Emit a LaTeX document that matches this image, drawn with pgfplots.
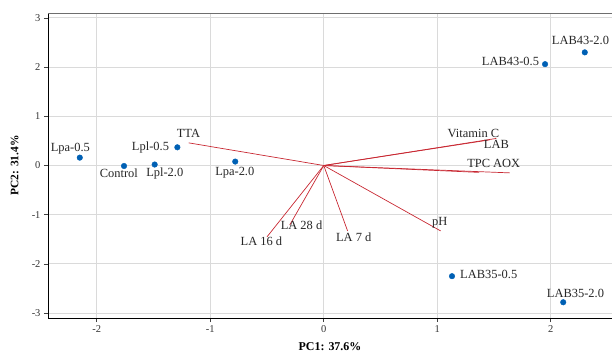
\documentclass[border=0pt]{standalone}
\usepackage{pgfplots}
\pgfplotsset{compat=1.18}
\usepackage{fontspec}
\setmainfont{Liberation Serif}
\definecolor{ptblue}{RGB}{0,96,180}
\definecolor{vecred}{RGB}{200,40,50}
\definecolor{gridgray}{RGB}{218,218,218}
\definecolor{ticktext}{RGB}{50,50,50}
\definecolor{bordergray}{RGB}{110,110,110}
\tikzset{lbl/.style={font=\fontsize{12.5}{14}\selectfont, text=black!85, inner sep=0pt}}
\begin{document}
\begin{tikzpicture}
\path[use as bounding box] (-48bp,-34bp) rectangle (564bp,318bp);
\begin{axis}[
  at={(0,0)}, anchor=south west,
  scale only axis, width=564bp, height=305bp,
  xmin=-2.43, xmax=2.54, ymin=-3.1, ymax=3.1,
  axis x line*=bottom, axis y line*=left,
  axis line style={black, line width=0.9pt, -},
  xtick={-2,-1,0,1,2}, ytick={-3,-2,-1,0,1,2,3},
  grid=major, major grid style={gridgray, line width=1.1pt},
  tick align=outside,
  tick style={black!75, line width=0.6pt},
  major tick length=4bp,
  ticklabel style={font=\fontsize{10.5}{12}\selectfont, text=ticktext},
  /pgf/number format/assume math mode=true,
  xlabel={PC1: 37.6\%}, ylabel={PC2: 31.4\%},
  xlabel style={font=\bfseries\fontsize{12}{14}\selectfont, at={(axis description cs:0.5,-0.094)}, anchor=center},
  ylabel style={font=\bfseries\fontsize{11.5}{14}\selectfont, at={(axis description cs:-0.059,0.5)}, anchor=center},
  clip=false,
]
\draw[bordergray, line width=0.9pt] (axis description cs:0,1) -- (axis description cs:1,1);

% loading vectors
\addplot[vecred, line width=0.7pt] coordinates {(0,0) (-1.19,0.46)};  % TTA
\addplot[vecred, line width=0.7pt] coordinates {(0,0) (1.52,0.55)};   % Vitamin C
\addplot[vecred, line width=0.7pt] coordinates {(0,0) (1.46,0.52)};   % LAB
\addplot[vecred, line width=0.7pt] coordinates {(0,0) (1.37,-0.14)};  % TPC
\addplot[vecred, line width=0.7pt] coordinates {(0,0) (1.64,-0.15)};  % AOX
\addplot[vecred, line width=0.7pt] coordinates {(0,0) (1.03,-1.33)};  % pH
\addplot[vecred, line width=0.7pt] coordinates {(0,0) (0.21,-1.33)};  % LA 7 d
\addplot[vecred, line width=0.7pt] coordinates {(0,0) (-0.30,-1.21)}; % LA 28 d
\addplot[vecred, line width=0.7pt] coordinates {(0,0) (-0.50,-1.45)}; % LA 16 d

% scores
\addplot[only marks, mark=*, mark size=2.8bp, color=ptblue] coordinates {
  (-2.15,0.16) (-1.76,-0.01) (-1.49,0.02) (-1.29,0.37) (-0.78,0.08)
  (1.95,2.06) (2.30,2.30) (1.13,-2.25) (2.11,-2.78)
};

\node[lbl] at (axis cs:-2.233,0.345) {Lpa-0.5};
\node[lbl] at (axis cs:-1.806,-0.163) {Control};
\node[lbl] at (axis cs:-1.401,-0.163) {Lpl-2.0};
\node[lbl] at (axis cs:-1.527,0.358) {Lpl-0.5};
\node[lbl] at (axis cs:-0.784,-0.150) {Lpa-2.0};
\node[lbl] at (axis cs:1.645,2.12) {LAB43-0.5};
\node[lbl] at (axis cs:2.262,2.533) {LAB43-2.0};
\node[lbl] at (axis cs:1.454,-2.209) {LAB35-0.5};
\node[lbl] at (axis cs:2.218,-2.602) {LAB35-2.0};

\node[lbl] at (axis cs:-1.192,0.657) {TTA};
\node[lbl] at (axis cs:1.319,0.650) {Vitamin C};
\node[lbl] at (axis cs:1.521,0.427) {LAB};
\node[lbl] at (axis cs:1.498,0.041) {TPC AOX};
\node[lbl] at (axis cs:1.022,-1.167) {pH};
\node[lbl] at (axis cs:0.264,-1.463) {LA 7 d};
\node[lbl] at (axis cs:-0.196,-1.213) {LA 28 d};
\node[lbl] at (axis cs:-0.549,-1.533) {LA 16 d};
\end{axis}
\end{tikzpicture}
\end{document}
